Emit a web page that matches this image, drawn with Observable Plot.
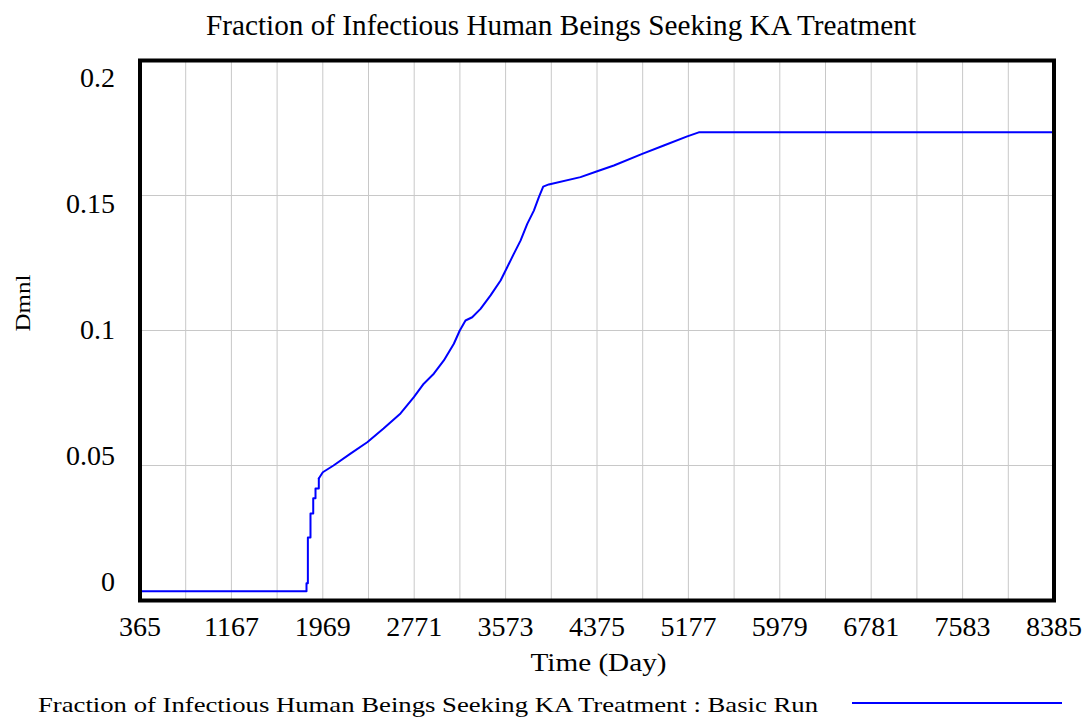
<!DOCTYPE html>
<html>
<head>
<meta charset="utf-8">
<script src="https://cdn.jsdelivr.net/npm/d3@7"></script>
<script src="https://cdn.jsdelivr.net/npm/@observablehq/plot@0.6"></script>
<style>
  html, body { margin: 0; padding: 0; background: #fff; }
  #wrap { position: relative; width: 1088px; height: 720px; font-family: 'Liberation Serif', serif; }
  #wrap svg text { font-family: 'Liberation Serif', serif; }
  #legend { position: absolute; left: 0; top: 685px; }
</style>
</head>
<body>
<div id="wrap"></div>
<script>
// ---- data ----
const titleText = "Fraction of Infectious Human Beings Seeking KA Treatment";
const seriesName = "Fraction of Infectious Human Beings Seeking KA Treatment : Basic Run";
const xLabel = "Time (Day)";
const yLabel = "Dmnl";
const xTicks = [365, 1167, 1969, 2771, 3573, 4375, 5177, 5979, 6781, 7583, 8385];
const yTicks = [0, 0.05, 0.1, 0.15, 0.2];
const yTickLabels = ["0", "0.05", "0.1", "0.15", "0.2"];

// early stair-step rise (step-after)
const stepTimes  = [365, 1826, 1838, 1861, 1885, 1905, 1934];
const stepValues = [0.00344, 0.0064, 0.0233, 0.0322, 0.0379, 0.0415, 0.0452];

// remainder of the run
const times = [1934, 1969, 2063, 2212, 2359, 2502, 2651, 2768, 2855, 2943, 3031, 3119, 3171, 3221, 3280, 3353, 3441, 3529, 3587, 3645, 3704, 3763, 3821, 3865, 3903, 3952, 4230, 4377, 4523, 4772, 4961, 5167, 5268, 8385];
const values = [0.0452, 0.0475, 0.0500, 0.0544, 0.0586, 0.0637, 0.0693, 0.0753, 0.0803, 0.0840, 0.0889, 0.0951, 0.1000, 0.1037, 0.1049, 0.1080, 0.1130, 0.1185, 0.1234, 0.1284, 0.1333, 0.1395, 0.1444, 0.1494, 0.1533, 0.1541, 0.1568, 0.1590, 0.1611, 0.1654, 0.1685, 0.1719, 0.1734, 0.1734];

const stepData = stepTimes.map((t, i) => ({t, v: stepValues[i]}));
const lineData = times.map((t, i) => ({t, v: values[i]}));

const xGrid = d3.range(365, 8385 + 1, 401);
const yGrid = [0.05, 0.1, 0.15];

const font = "'Liberation Serif', serif";
const blue = "#0000ff";

// Vensim spreads its y labels evenly inside the frame
const labelPos = v => (18 + v * 2522.5) / 2700;

const chart = Plot.plot({
  width: 1088,
  height: 685,
  marginLeft: 139.5,
  marginRight: 34.5,
  marginTop: 60,
  marginBottom: 85,
  style: { fontFamily: font, background: "#fff", color: "#000" },
  x: { domain: [365, 8385], axis: null },
  y: { domain: [0, 0.2], axis: null },
  marks: [
    Plot.gridX(xGrid, { stroke: "#c8c8c8", strokeOpacity: 1, strokeWidth: 1 }),
    Plot.gridY(yGrid, { stroke: "#c8c8c8", strokeOpacity: 1, strokeWidth: 1 }),
    Plot.line(stepData, { x: "t", y: "v", curve: "step-after", stroke: blue, strokeWidth: 2 }),
    Plot.line(lineData, { x: "t", y: "v", stroke: blue, strokeWidth: 2 }),
    Plot.frame({ stroke: "#000", strokeWidth: 4 }),
    Plot.text(xTicks, { x: d => d, frameAnchor: "bottom", dy: 26.5, lineAnchor: "middle", text: d => String(d), fontSize: 28, fontFamily: font, fill: "#000" }),
    Plot.text(yTicks, { y: d => labelPos(d), frameAnchor: "left", dx: -25, textAnchor: "end", lineAnchor: "middle", text: (d, i) => yTickLabels[i], fontSize: 28, fontFamily: font, fill: "#000" }),
    Plot.text([xLabel], { frameAnchor: "bottom", dx: 1.5, dy: 62, lineAnchor: "middle", text: d => d, fontSize: 26, fontFamily: font, fill: "#000" }),
    Plot.text([yLabel], { frameAnchor: "left", dx: -117, dy: 1, rotate: -90, lineAnchor: "middle", text: d => d, fontSize: 21, fontFamily: font, fill: "#000" }),
    Plot.text([titleText], { frameAnchor: "top", dx: -36, dy: -35, lineAnchor: "middle", text: d => d, fontSize: 29, fontFamily: font, fill: "#000" })
  ]
});

const lengths = {};
lengths[titleText] = 710;
lengths[xLabel] = 136;
lengths[yLabel] = 57;
d3.select(chart).selectAll("text").each(function () {
  const L = lengths[this.textContent];
  if (L) { this.setAttribute("textLength", L); this.setAttribute("lengthAdjust", "spacingAndGlyphs"); }
});

document.getElementById("wrap").appendChild(chart);

// legend below the plot
const leg = d3.select("#wrap").append("svg")
  .attr("id", "legend").attr("width", 1088).attr("height", 35);
leg.append("text")
  .attr("x", 38).attr("y", 22).attr("dominant-baseline", "middle")
  .attr("font-family", font).attr("font-size", 22).attr("fill", "#000")
  .attr("textLength", 780).attr("lengthAdjust", "spacingAndGlyphs")
  .text(seriesName);
leg.append("line")
  .attr("x1", 852).attr("x2", 1062).attr("y1", 18).attr("y2", 18)
  .attr("stroke", blue).attr("stroke-width", 2);
</script>
</body>
</html>
